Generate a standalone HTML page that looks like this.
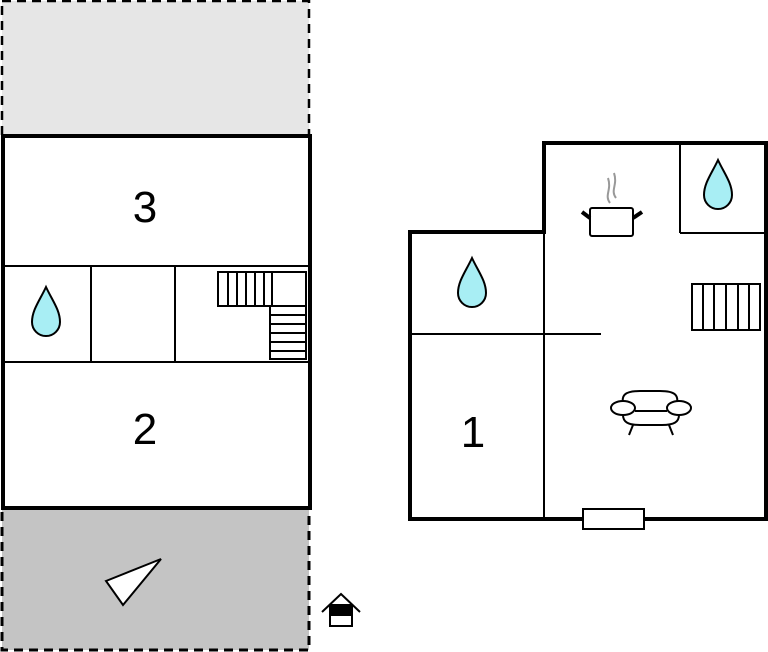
<!DOCTYPE html>
<html><head><style>body{margin:0;background:#fff}svg{display:block}</style></head><body>
<svg width="768" height="652" viewBox="0 0 768 652" xmlns="http://www.w3.org/2000/svg">
<rect x="2" y="1" width="307" height="135" fill="#e6e6e6" stroke="#000" stroke-width="2.5" stroke-dasharray="9,6"/>
<rect x="2" y="508" width="307" height="142" fill="#c4c4c4" stroke="#000" stroke-width="3" stroke-dasharray="9,6"/>
<rect x="3" y="136" width="307" height="372" fill="#fff" stroke="#000" stroke-width="4"/>
<g stroke="#000" stroke-width="2" fill="none">
<line x1="3" y1="266" x2="310" y2="266"/>
<line x1="3" y1="362" x2="310" y2="362"/>
<line x1="91" y1="266" x2="91" y2="362"/>
<line x1="175" y1="266" x2="175" y2="362"/>
<rect x="218" y="272" width="88" height="34"/>
<line x1="228" y1="272" x2="228" y2="306"/><line x1="237" y1="272" x2="237" y2="306"/><line x1="246" y1="272" x2="246" y2="306"/><line x1="255" y1="272" x2="255" y2="306"/><line x1="264" y1="272" x2="264" y2="306"/><line x1="272" y1="272" x2="272" y2="306"/>
<rect x="270" y="306" width="36" height="53"/>
<line x1="270" y1="315" x2="306" y2="315"/><line x1="270" y1="324" x2="306" y2="324"/><line x1="270" y1="333" x2="306" y2="333"/><line x1="270" y1="342" x2="306" y2="342"/><line x1="270" y1="351" x2="306" y2="351"/>
</g>
<path d="M46 287 C40 300 32 310 32 322 A14 14 0 0 0 60 322 C60 310 52 300 46 287Z" fill="#a8eef4" stroke="#000" stroke-width="2"/>
<text x="145" y="222" font-family="Liberation Sans,sans-serif" font-size="44" text-anchor="middle">3</text>
<text x="145" y="444" font-family="Liberation Sans,sans-serif" font-size="44" text-anchor="middle">2</text>
<polygon points="106,581 161,559 123,605" fill="#fff" stroke="#000" stroke-width="2"/>
<g stroke="#000" stroke-width="2" fill="#fff">
<polyline points="322,612 341,594 360,612" fill="none"/>
<rect x="330" y="605" width="22" height="21"/>
<rect x="330" y="605" width="22" height="10" fill="#000"/>
</g>
<polygon points="410,232 544,232 544,143 766,143 766,519 410,519" fill="#fff" stroke="#000" stroke-width="4"/>
<g stroke="#000" stroke-width="2" fill="none">
<line x1="544" y1="232" x2="544" y2="519"/>
<line x1="410" y1="334" x2="601" y2="334"/>
<line x1="680" y1="143" x2="680" y2="233"/>
<line x1="680" y1="233" x2="766" y2="233"/>
<rect x="692" y="284" width="68" height="46"/>
<line x1="703" y1="284" x2="703" y2="330"/><line x1="714" y1="284" x2="714" y2="330"/><line x1="726" y1="284" x2="726" y2="330"/><line x1="738" y1="284" x2="738" y2="330"/><line x1="749" y1="284" x2="749" y2="330"/>
<rect x="590" y="208" width="43" height="28" rx="2"/>
<line x1="590" y1="218" x2="582" y2="212" stroke-width="4"/>
<line x1="633" y1="218" x2="642" y2="212" stroke-width="4"/>
<path d="M610 203 C604 195 612 190 608 178 M616 198 C610 190 618 185 614 173" stroke="#999"/>
<path d="M624 407 C620 395 625 391 640 391 L660 391 C675 391 680 395 676 407"/>
<ellipse cx="623" cy="408" rx="12" ry="7" fill="#fff"/>
<ellipse cx="679" cy="408" rx="12" ry="7" fill="#fff"/>
<line x1="635" y1="411" x2="667" y2="411"/>
<path d="M623 415 C623 422 628 425 640 425 L662 425 C674 425 679 422 679 415"/>
<line x1="633" y1="425" x2="629" y2="435"/><line x1="669" y1="425" x2="673" y2="435"/>
</g>
<rect x="583" y="509" width="61" height="20" fill="#fff" stroke="#000" stroke-width="2"/>
<path d="M472 258 C466 271 458 281 458 293 A14 14 0 0 0 486 293 C486 281 478 271 472 258Z" fill="#a8eef4" stroke="#000" stroke-width="2"/>
<path d="M718 160 C712 173 704 183 704 195 A14 14 0 0 0 732 195 C732 183 724 173 718 160Z" fill="#a8eef4" stroke="#000" stroke-width="2"/>
<text x="473" y="447" font-family="Liberation Sans,sans-serif" font-size="44" text-anchor="middle">1</text>
</svg>
</body></html>
